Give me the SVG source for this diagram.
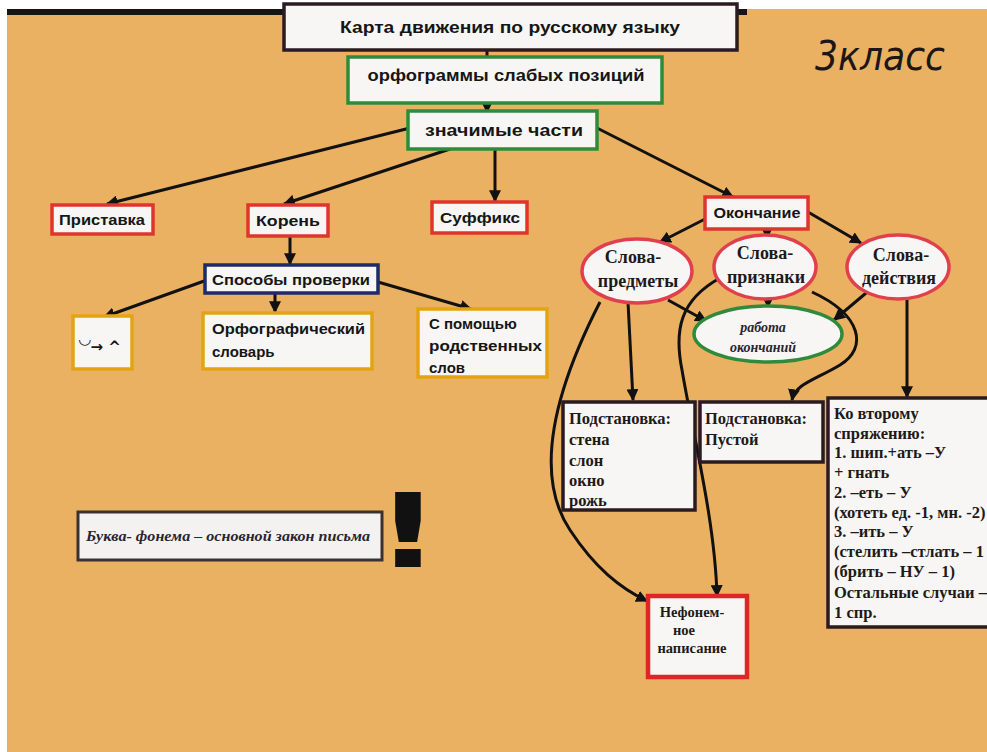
<svg xmlns="http://www.w3.org/2000/svg" width="987" height="752" viewBox="0 0 987 752">
<defs>
<marker id="ah" viewBox="0 0 10 10" refX="9" refY="5" markerWidth="4" markerHeight="4" orient="auto-start-reverse" markerUnits="strokeWidth">
<path d="M0,0 L10,5 L0,10 Z" fill="#111"/>
</marker>
<style>
.box{fill:#f7f6f4;stroke-width:3.5}
.red{stroke:#e0352c}
.grn{stroke:#2f8a3c}
.nav{stroke:#1f2a6a}
.yel{stroke:#e3a412}
.blk{stroke:#2a1b22}
.sans{font-family:"Liberation Sans",Arial,sans-serif;font-weight:bold;fill:#161616}
.ser{font-family:"Liberation Serif","Times New Roman",serif;font-weight:bold;fill:#1e1a1a}
.it{font-family:"Liberation Serif","Times New Roman",serif;font-style:italic;font-weight:bold;fill:#2a2430}
.c{stroke:#111;stroke-width:3;fill:none;stroke-linecap:round}
.ca{stroke:#111;stroke-width:3;fill:none;marker-end:url(#ah)}
</style>
</defs>
<rect x="0" y="0" width="987" height="752" fill="#ffffff"/>
<rect x="7" y="9" width="980" height="743" fill="#ebb162"/>
<rect x="7" y="9" width="740" height="6" fill="#151515"/>

<g id="connectors">
<line class="c" x1="487" y1="50" x2="487" y2="57"/>
<line class="ca" x1="487" y1="103" x2="487" y2="112"/>
<line class="ca" x1="410" y1="128" x2="107" y2="204"/>
<line class="ca" x1="453" y1="148" x2="284" y2="204"/>
<line class="ca" x1="495" y1="150" x2="495" y2="201"/>
<line class="ca" x1="597" y1="128" x2="733" y2="197"/>
<line class="ca" x1="290" y1="236" x2="290" y2="264"/>
<line class="ca" x1="207" y1="280" x2="104" y2="317"/>
<line class="ca" x1="275" y1="293" x2="275" y2="312"/>
<line class="ca" x1="378" y1="282" x2="471" y2="309"/>
<line class="ca" x1="707" y1="218" x2="660" y2="242"/>
<line class="ca" x1="767" y1="229" x2="767" y2="238"/>
<line class="ca" x1="808" y1="212" x2="861" y2="243"/>
<line class="ca" x1="668" y1="300" x2="706" y2="321"/>
<line class="ca" x1="768" y1="297" x2="768" y2="307"/>
<line class="ca" x1="872" y1="288" x2="834" y2="320"/>
<line class="ca" x1="628" y1="302" x2="633" y2="400"/>
<path class="ca" d="M812,292 C862,315 868,348 840,365 C815,380 795,384 792,400"/>
<line class="ca" x1="907" y1="297" x2="907" y2="397"/>
<path class="ca" d="M600,302 C560,380 530,470 570,530 C595,568 620,588 647,601"/>
<path class="ca" d="M720,278 C680,300 674,330 682,370 C692,430 715,520 717,596"/>
</g>

<g id="title">
<rect class="box blk" x="284" y="4" width="453" height="46" stroke="#151515"/>
<text class="sans" x="510" y="33" font-size="17" text-anchor="middle" textLength="340" lengthAdjust="spacingAndGlyphs">Карта движения по русскому языку</text>
</g>
<g id="grade">
<text x="815" y="70" font-family="'DejaVu Sans',sans-serif" font-style="italic" font-size="40" fill="#1c1616" textLength="130" lengthAdjust="spacingAndGlyphs">3класс</text>
</g>
<g id="orfogrammy">
<rect class="box grn" x="348" y="57" width="314" height="46"/>
<text class="sans" x="506" y="81" font-size="17" text-anchor="middle" textLength="277" lengthAdjust="spacingAndGlyphs">орфограммы слабых позиций</text>
</g>
<g id="znachimye">
<rect class="box grn" x="408" y="111" width="189" height="38"/>
<text class="sans" x="504" y="136" font-size="17" text-anchor="middle" textLength="158" lengthAdjust="spacingAndGlyphs">значимые части</text>
</g>
<g id="pristavka">
<rect class="box red" x="52" y="205" width="101" height="29"/>
<text class="sans" x="102" y="225" font-size="15" text-anchor="middle" textLength="86" lengthAdjust="spacingAndGlyphs">Приставка</text>
</g>
<g id="koren">
<rect class="box red" x="248" y="205" width="80" height="31"/>
<text class="sans" x="288" y="226" font-size="15" text-anchor="middle" textLength="64" lengthAdjust="spacingAndGlyphs">Корень</text>
</g>
<g id="suffiks">
<rect class="box red" x="432" y="202" width="95" height="31"/>
<text class="sans" x="480" y="223" font-size="15" text-anchor="middle" textLength="80" lengthAdjust="spacingAndGlyphs">Суффикс</text>
</g>
<g id="okonchanie">
<rect class="box red" x="705" y="197" width="103" height="32"/>
<text class="sans" x="757" y="218" font-size="15" text-anchor="middle" textLength="87" lengthAdjust="spacingAndGlyphs">Окончание</text>
</g>
<g id="sposoby">
<rect class="box nav" x="205" y="265" width="173" height="28"/>
<text class="sans" x="291" y="285" font-size="15" text-anchor="middle" textLength="158" lengthAdjust="spacingAndGlyphs">Способы проверки</text>
</g>
<g id="udarenie">
<rect class="box yel" x="73" y="316" width="59" height="53"/>
<text font-family="'DejaVu Sans',sans-serif" font-weight="bold" font-size="15" fill="#161616"><tspan x="79" y="344">◡</tspan><tspan y="352">→ ^</tspan></text>
</g>
<g id="slovar">
<rect class="box yel" x="203" y="313" width="169" height="56"/>
<text class="sans" font-size="15"><tspan x="212" y="334" textLength="153" lengthAdjust="spacingAndGlyphs">Орфографический</tspan><tspan x="212" y="357">словарь</tspan></text>
</g>
<g id="rodstvennye">
<rect class="box yel" x="418" y="309" width="129" height="68"/>
<text class="sans" font-size="15"><tspan x="429" y="329">С помощью</tspan><tspan x="429" y="351" textLength="113" lengthAdjust="spacingAndGlyphs">родственных</tspan><tspan x="429" y="373">слов</tspan></text>
</g>
<g id="predmety">
<ellipse cx="637" cy="271" rx="55" ry="32" fill="#f7f6f4" stroke="#e0404e" stroke-width="3.5"/>
<text class="ser" font-size="18" text-anchor="middle"><tspan x="633" y="263">Слова-</tspan><tspan x="638" y="287">предметы</tspan></text>
</g>
<g id="priznaki">
<ellipse cx="765" cy="267" rx="51" ry="32" fill="#f7f6f4" stroke="#e0404e" stroke-width="3.5"/>
<text class="ser" font-size="18" text-anchor="middle"><tspan x="765" y="259">Слова-</tspan><tspan x="766" y="283">признаки</tspan></text>
</g>
<g id="deystviya">
<ellipse cx="898" cy="267" rx="51" ry="32" fill="#f7f6f4" stroke="#e0404e" stroke-width="3.5"/>
<text class="ser" font-size="18" text-anchor="middle"><tspan x="901" y="261">Слова-</tspan><tspan x="899" y="284">действия</tspan></text>
</g>
<g id="rabota">
<ellipse cx="768" cy="334" rx="74" ry="28" fill="#f7f6f4" stroke="#2f8a3c" stroke-width="3.5"/>
<text class="it" font-size="14" text-anchor="middle"><tspan x="763" y="332">работа</tspan><tspan x="763" y="352">окончаний</tspan></text>
</g>
<g id="podst1">
<rect class="box blk" x="563" y="402" width="132" height="108"/>
<text class="ser" font-size="16.5"><tspan x="569" y="424">Подстановка:</tspan><tspan x="569" y="445">стена</tspan><tspan x="569" y="466">слон</tspan><tspan x="569" y="486">окно</tspan><tspan x="569" y="506">рожь</tspan></text>
</g>
<g id="podst2">
<rect class="box blk" x="700" y="402" width="123" height="60"/>
<text class="ser" font-size="16.5"><tspan x="705" y="424">Подстановка:</tspan><tspan x="705" y="445">Пустой</tspan></text>
</g>
<g id="spryazhenie">
<rect class="box blk" x="828" y="398" width="165" height="229"/>
<text class="ser" font-size="16.5"><tspan x="834" y="419">Ко второму</tspan><tspan x="834" y="439">спряжению:</tspan><tspan x="834" y="458">1. шип.+ать –У</tspan><tspan x="834" y="478">+ гнать</tspan><tspan x="834" y="498">2.  –еть – У</tspan><tspan x="834" y="518">(хотеть ед. -1, мн. -2)</tspan><tspan x="834" y="537">3. –ить – У</tspan><tspan x="834" y="557">(стелить –стлать – 1</tspan><tspan x="834" y="577">(брить – НУ – 1)</tspan><tspan x="834" y="598">Остальные случаи –</tspan><tspan x="834" y="618">1 спр.</tspan></text>
</g>
<g id="nefonem">
<rect x="648" y="596" width="99" height="81" fill="#f7f6f4" stroke="#e0252a" stroke-width="4.5"/>
<text class="ser" font-size="14.5" text-anchor="middle"><tspan x="692" y="617">Нефонем-</tspan><tspan x="684" y="635">ное</tspan><tspan x="692" y="653">написание</tspan></text>
</g>
<g id="zakon">
<rect x="78" y="512" width="304" height="48" fill="#f3f2f0" stroke="#3a3232" stroke-width="3"/>
<text class="it" x="228" y="541" font-size="15" text-anchor="middle" textLength="284" lengthAdjust="spacingAndGlyphs" font-weight="normal">Буква- фонема – основной закон письма</text>
</g>
<g id="exclam">
<text x="408" y="567" font-family="'DejaVu Sans',sans-serif" font-weight="bold" font-size="104" text-anchor="middle" fill="#111" transform="translate(408,0) scale(1.4,1) translate(-408,0)">!</text>
</g>
</svg>
